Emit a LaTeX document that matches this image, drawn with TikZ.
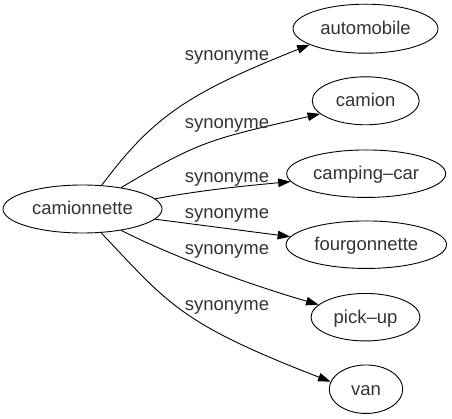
\documentclass[tikz,border=0pt]{standalone}
\usepackage{fontspec}
\setmainfont{Liberation Sans}
\usetikzlibrary{shapes.geometric,arrows.meta}
\tikzset{
  term/.style={ellipse, draw=black, line width=0.9pt, inner sep=0pt,
    font=\fontsize{18.5}{18.5}\selectfont, text=black!80,
    text height=13pt, text depth=1pt},
  rel/.style={anchor=base, inner sep=0pt, font=\fontsize{18.5}{18.5}\selectfont, text=black!80},
  link/.style={line width=0.9pt, -{Triangle[length=12.5pt,width=8.5pt]}}
}
\begin{document}
\begin{tikzpicture}[x=1pt,y=-1pt]
\useasboundingbox (0,0) rectangle (452,419);
\node[term, minimum width=159pt, minimum height=48pt] (cam) at (82.5,209) {camionnette};
\node[term, minimum width=145pt, minimum height=49pt] (auto) at (365.5,28.7) {automobile};
\node[term, minimum width=107pt, minimum height=48pt] (camion) at (365.7,100.8) {camion};
\node[term, minimum width=159pt, minimum height=47.5pt] (cc) at (366.2,173.7) {camping–car};
\node[term, minimum width=160.5pt, minimum height=47.5pt] (four) at (366.3,244.7) {fourgonnette};
\node[term, minimum width=109pt, minimum height=47.5pt] (pick) at (365.5,317.2) {pick–up};
\node[term, minimum width=73.5pt, minimum height=48.5pt] (van) at (366,389.2) {van};

\draw[link] (cam.51) .. controls (153.5,116) and (188.6,93) .. (auto.196);
\draw[link] (cam.29) .. controls (201,140.1) and (210.8,139.3) .. (camion.196);
\draw[link] (cam.8) .. controls (201.7,190) and (246.7,185.7) .. (cc.186);
\draw[link] (cam.-8) -- (four.174);
\draw[link] (cam.-29) .. controls (178,259) and (254,286) .. (pick.165);
\draw[link] (cam.-52) .. controls (168.8,304.2) and (180.1,323.4) .. (van.168);

\node[rel] (l1) at (227,60.7) {synonyme};
\node[rel] (l2) at (227,128.3) {synonyme};
\node[rel] (l3) at (227,182.5) {synonyme};
\node[rel] (l4) at (227,218.3) {synonyme};
\node[rel] (l5) at (227,255) {synonyme};
\node[rel] (l6) at (227,310) {synonyme};
\end{tikzpicture}
\end{document}
